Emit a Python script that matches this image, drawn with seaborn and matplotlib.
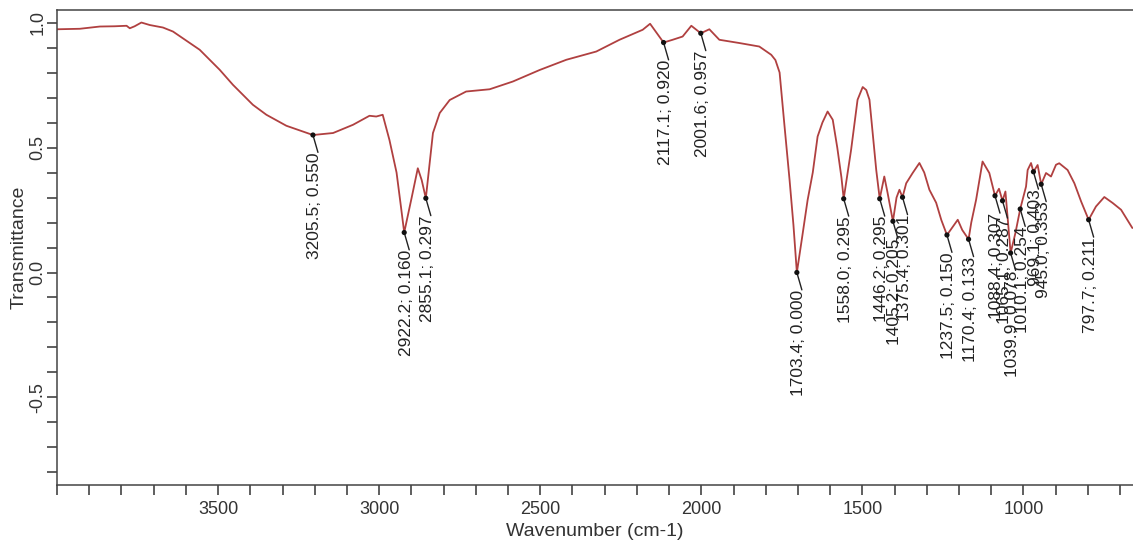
import matplotlib
matplotlib.use("Agg")
import matplotlib.pyplot as plt
import seaborn as sns
import pandas as pd
from matplotlib.ticker import MultipleLocator, FixedLocator

# espectro FTIR
wavenumber = [4000, 3929, 3867, 3821, 3784, 3774, 3759, 3738, 3712, 3671, 3640, 3557, 3495, 3454,
              3392, 3350, 3288, 3205.5, 3143, 3081, 3030, 3009, 2989, 2968, 2946, 2933, 2922.2,
              2899, 2880, 2868, 2855.1, 2833, 2812, 2781, 2730, 2657, 2585, 2502, 2419, 2326,
              2254, 2182, 2159, 2117.1, 2089, 2058, 2031, 2001.6, 1975, 1944, 1882, 1820, 1783,
              1770, 1757, 1742, 1726, 1714, 1703.4, 1686, 1670, 1654, 1639, 1624, 1608, 1592,
              1578, 1565, 1558.0, 1535, 1515, 1499, 1488, 1478, 1457, 1446.2, 1432, 1422, 1405.2,
              1394, 1385, 1375.4, 1364, 1344, 1323, 1308, 1292, 1271, 1255, 1237.5, 1221, 1204,
              1190, 1170.4, 1162, 1147, 1127, 1106, 1088.4, 1076, 1065.1, 1056, 1039.9, 1025,
              1010.1, 992, 987, 976.5, 969.1, 956, 945.0, 930, 914.5, 899, 889, 863, 842, 821,
              797.7, 775, 749, 723, 697, 662]
transmittance = [0.973, 0.975, 0.984, 0.985, 0.987, 0.977, 0.985, 1.000, 0.990, 0.980, 0.964, 0.891,
                 0.811, 0.751, 0.671, 0.631, 0.587, 0.550, 0.558, 0.591, 0.627, 0.624, 0.631, 0.53,
                 0.40, 0.27, 0.160, 0.30, 0.417, 0.37, 0.297, 0.558, 0.638, 0.690, 0.724, 0.733,
                 0.764, 0.810, 0.851, 0.884, 0.931, 0.971, 0.995, 0.920, 0.931, 0.944, 0.987, 0.957,
                 0.973, 0.931, 0.918, 0.904, 0.871, 0.85, 0.80, 0.59, 0.37, 0.19, 0.000, 0.15, 0.29,
                 0.40, 0.544, 0.60, 0.644, 0.611, 0.50, 0.38, 0.295, 0.491, 0.691, 0.742, 0.73,
                 0.691, 0.41, 0.295, 0.384, 0.32, 0.205, 0.30, 0.331, 0.301, 0.357, 0.398, 0.438,
                 0.40, 0.331, 0.279, 0.21, 0.150, 0.18, 0.211, 0.17, 0.133, 0.2, 0.291, 0.444,
                 0.398, 0.307, 0.335, 0.287, 0.324, 0.078, 0.158, 0.254, 0.344, 0.41, 0.438, 0.403,
                 0.43, 0.353, 0.398, 0.384, 0.431, 0.437, 0.41, 0.357, 0.284, 0.211, 0.264, 0.302,
                 0.278, 0.251, 0.178]

# picos marcados
peak_wn = [3205.5, 2922.2, 2855.1, 2117.1, 2001.6, 1703.4, 1558.0, 1446.2, 1405.2, 1375.4,
           1237.5, 1170.4, 1088.4, 1065.1, 1039.9, 1010.1, 969.1, 945.0, 797.7]
peak_tr = [0.550, 0.160, 0.297, 0.920, 0.957, 0.000, 0.295, 0.295, 0.205, 0.301,
           0.150, 0.133, 0.307, 0.287, 0.078, 0.254, 0.403, 0.353, 0.211]

df = pd.DataFrame({"wn": wavenumber, "tr": transmittance})
df_peaks = pd.DataFrame({"wn": peak_wn, "tr": peak_tr})

sns.set_theme(style="ticks")
plt.rcParams["font.family"] = ["Liberation Sans", "DejaVu Sans"]
plt.rcParams["axes.unicode_minus"] = False

fig = plt.figure(figsize=(11.33, 5.42), dpi=100)
ax = fig.add_axes([0.0503, 0.1052, 0.9497, 0.8763])

sns.lineplot(data=df, x="wn", y="tr", sort=False, color="#b04040", linewidth=1.3, ax=ax)
sns.scatterplot(data=df_peaks, x="wn", y="tr", color="#111111", s=14, edgecolor="none",
                zorder=5, ax=ax)

#etiquetas de picos con linea guia
for w, v in zip(peak_wn, peak_tr):
    ax.annotate("", xy=(w, v), xytext=(3.6, -12.5), textcoords="offset points",
                arrowprops=dict(arrowstyle="-", color="#222222", lw=1.0, shrinkA=0, shrinkB=0))
    ax.annotate(f"{w:.1f}; {v:.3f}", xy=(w, v), xytext=(1.4, -12.5), textcoords="offset points",
                rotation=90, ha="center", va="top", fontsize=12.5, color="#222222")

ax.set_xlim(4000, 660)
ax.set_ylim(-0.85, 1.05)
ax.xaxis.set_major_locator(FixedLocator([3500, 3000, 2500, 2000, 1500, 1000]))
ax.xaxis.set_minor_locator(MultipleLocator(100))
ax.yaxis.set_major_locator(FixedLocator([-0.5, 0.0, 0.5, 1.0]))
ax.yaxis.set_minor_locator(MultipleLocator(0.1))
ax.set_xticklabels(["3500", "3000", "2500", "2000", "1500", "1000"])
ax.set_yticklabels(["-0.5", "0.0", "0.5", "1.0"])

ax.tick_params(which="both", length=7.2, width=1.1, color="#333333", labelsize=13,
               labelcolor="#333333")
ax.tick_params(axis="x", which="both", pad=4)
ax.tick_params(axis="y", which="both", pad=0.5, labelrotation=90)
for lbl in ax.get_yticklabels():
    lbl.set_va("center")

ax.spines["right"].set_visible(False)
for s in ["left", "bottom", "top"]:
    ax.spines[s].set_color("#444444")
    ax.spines[s].set_linewidth(1.1)

ax.set_xlabel("Wavenumber (cm-1)", fontsize=14, color="#333333", labelpad=4)
ax.set_ylabel("Transmittance", fontsize=14, color="#333333", labelpad=1)

fig.savefig("out.png", dpi=100)
plt.close(fig)
